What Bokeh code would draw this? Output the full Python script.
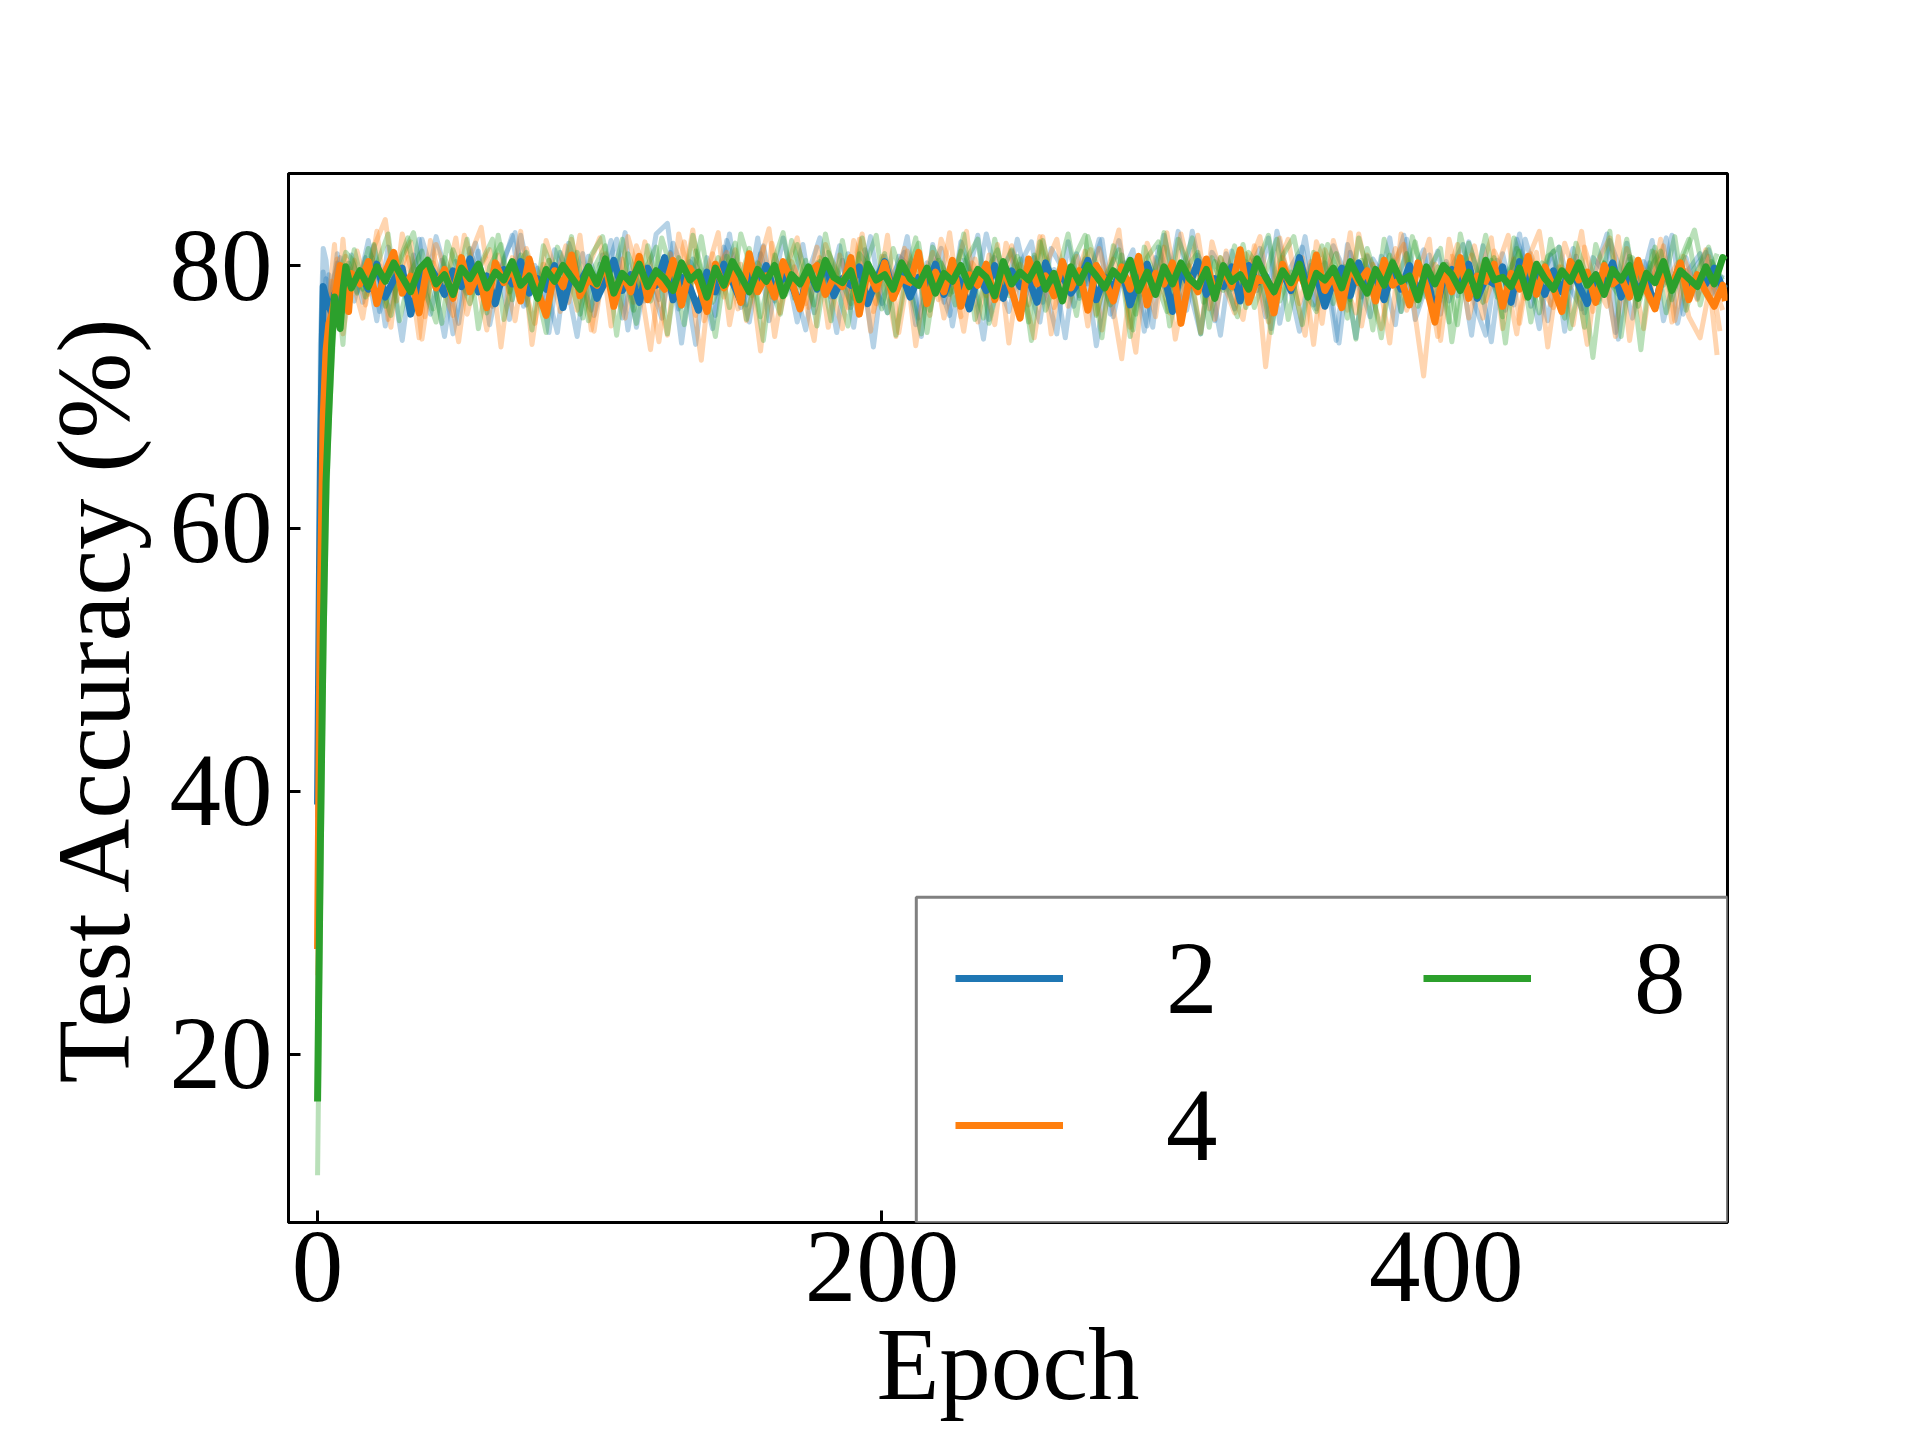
from bokeh.plotting import figure
from bokeh.models import Legend, LegendItem, BoxAnnotation, FixedTicker, Range1d
from bokeh.embed import file_html
from bokeh.resources import INLINE

# ---------------- data ----------------
SERIES_LABELS = ["2", "4", "8"]
COLORS = ["#1f77b4", "#ff7f0e", "#2ca02c"]

EPOCH_MEAN = list(range(13)) + list(range(15, 499, 3)) + [499]
EPOCH_RUN_A = [0, 1, 2, 3, 4, 5, 6, 8, 10] + list(range(12, 497, 4))
EPOCH_RUN_B = [0, 1, 2, 3, 4, 5, 7, 9, 11] + list(range(14, 499, 4))
EPOCH_RUN_C = [0, 1, 2, 3, 4, 5, 6, 7, 9] + list(range(13, 498, 4))

MEAN_2 = [39.0, 65.0, 78.4, 77.6, 76.9, 76.4, 77.8, 78.2, 77.0, 78.6, 79.3, 78.1, 79.0,
          79.4, 78.2, 80.1, 77.6, 78.9, 79.8, 76.3, 78.7, 80.2, 79.1, 77.8, 79.6, 78.4, 80.5, 78.0, 79.2, 77.1, 79.7,
          78.6, 80.3, 77.9, 79.0, 78.2, 80.0, 76.8, 79.4, 78.7, 79.9, 77.5, 78.8, 80.4, 78.1, 79.3, 77.2, 79.8, 78.5,
          80.6, 77.4, 79.1, 78.3, 76.6, 79.5, 78.0, 80.1, 78.8, 77.3, 79.6, 78.4, 80.0, 77.9, 79.2, 78.6, 76.9, 79.7,
          78.2, 80.2, 77.7, 79.0, 78.5, 79.9, 77.1, 78.9, 80.3, 78.0, 79.4, 77.6, 79.1, 78.3, 80.1, 77.8, 79.5, 78.7,
          76.7, 79.3, 78.1, 80.0, 77.5, 79.6, 78.4, 79.0, 77.2, 80.2, 78.6, 79.2, 77.9, 78.8, 80.4, 77.4, 79.1, 78.3,
          79.8, 77.0, 78.9, 80.1, 78.2, 79.4, 76.5, 79.7, 78.5, 80.3, 77.8, 79.0, 78.4, 79.9, 77.3, 80.0, 78.7, 79.2,
          77.6, 79.5, 78.1, 80.6, 78.0, 79.3, 76.9, 78.8, 79.8, 77.7, 80.2, 78.5, 79.1, 77.4, 79.6, 78.2, 80.0, 77.9,
          79.4, 76.4, 78.9, 79.7, 78.3, 80.1, 77.5, 79.0, 78.6, 79.9, 77.2, 80.3, 78.4, 79.2, 77.8, 79.6, 78.0, 80.0,
          78.5, 77.1, 79.3, 78.8, 80.2, 77.6, 79.5, 78.1, 79.0, 76.8, 79.7, 78.4, 80.1, 77.9, 79.2, 78.6, 79.8, 78.3,
          78.6]

MEAN_4 = [28.0, 55.0, 68.5, 73.5, 75.6, 76.2, 77.4, 78.8, 80.0, 77.2, 78.9, 76.5, 79.4,
          78.6, 80.3, 77.1, 79.5, 81.0, 77.9, 79.2, 76.4, 80.1, 78.3, 79.7, 77.5, 80.6, 78.0, 79.4, 76.8, 80.2, 78.7,
          79.9, 77.3, 80.5, 78.1, 76.2, 79.6, 78.4, 80.8, 77.7, 79.0, 78.5, 80.2, 76.9, 79.3, 78.0, 80.7, 77.4, 79.1,
          78.2, 80.4, 77.0, 79.8, 78.6, 76.5, 80.1, 78.3, 79.5, 77.2, 80.9, 78.0, 79.2, 77.6, 80.3, 78.8, 76.7, 79.4,
          80.0, 77.8, 79.1, 78.4, 80.6, 76.3, 79.7, 78.2, 80.2, 77.5, 79.0, 78.7, 81.0, 77.1, 79.5, 78.0, 80.4, 76.9,
          79.3, 78.5, 80.1, 77.4, 79.8, 78.1, 76.0, 80.5, 78.6, 79.2, 77.7, 80.3, 78.3, 79.6, 76.6, 80.0, 78.9, 77.3,
          79.9, 78.2, 80.7, 77.0, 79.4, 78.6, 80.2, 75.6, 79.1, 78.0, 80.5, 77.6, 79.7, 78.4, 81.2, 77.2, 79.0, 78.8,
          76.4, 80.1, 78.3, 79.5, 77.9, 80.8, 78.1, 79.3, 76.8, 80.0, 78.7, 79.6, 77.3, 80.4, 78.5, 79.0, 77.0, 80.2,
          78.4, 75.7, 79.8, 78.0, 80.6, 77.5, 79.2, 78.8, 80.1, 76.9, 79.4, 78.2, 80.7, 77.8, 79.9, 78.3, 76.5, 80.3,
          78.9, 79.5, 77.2, 80.0, 78.6, 79.1, 77.6, 80.4, 78.1, 76.7, 79.7, 78.4, 80.2, 77.4, 79.3, 78.0, 76.9, 78.5,
          77.3]

MEAN_8 = [16.4, 36.0, 52.0, 63.5, 69.0, 74.0, 77.6, 76.2, 75.2, 78.1, 79.9, 79.0, 78.3,
          79.6, 78.4, 79.9, 78.8, 80.2, 79.1, 78.0, 79.7, 80.4, 78.6, 79.3, 77.8, 79.8, 79.0, 80.1, 78.3, 79.5, 78.9,
          80.3, 78.5, 79.2, 77.5, 79.7, 78.8, 80.0, 79.1, 78.2, 79.9, 78.6, 80.5, 77.9, 79.4, 78.7, 80.1, 78.4, 79.6,
          79.0, 78.1, 80.2, 78.9, 79.5, 77.6, 79.8, 78.5, 80.3, 79.2, 78.0, 79.7, 78.8, 80.0, 77.7, 79.3, 78.6, 79.9,
          78.3, 80.4, 79.1, 78.7, 79.6, 77.4, 80.1, 78.9, 79.3, 78.2, 80.2, 79.0, 78.5, 79.8, 77.9, 79.4, 78.8, 80.0,
          78.4, 79.7, 79.1, 77.7, 80.3, 78.6, 79.5, 78.9, 80.1, 78.2, 79.4, 77.3, 79.9, 78.7, 80.0, 79.2, 78.3, 79.6,
          78.9, 80.4, 78.1, 79.5, 77.8, 79.9, 78.6, 80.2, 79.0, 78.4, 79.7, 77.5, 80.0, 78.8, 79.3, 78.2, 80.5, 79.1,
          78.0, 79.6, 78.7, 80.1, 77.6, 79.4, 78.9, 79.8, 78.3, 80.3, 79.0, 77.9, 79.7, 78.5, 80.2, 78.8, 79.2, 77.4,
          79.9, 78.6, 80.0, 79.3, 78.1, 79.5, 77.7, 80.4, 78.9, 79.1, 78.4, 79.8, 77.6, 80.1, 79.0, 78.2, 79.6, 78.8,
          80.2, 78.5, 79.3, 77.8, 79.7, 78.9, 80.0, 77.5, 79.4, 78.7, 80.3, 78.1, 79.6, 79.0, 78.4, 79.9, 78.6, 80.6,
          80.4]

RUN_2A = [32.7, 74.0, 81.3, 80.4, 78.0, 76.1, 79.2, 80.6, 77.4,
          80.8, 77.2, 81.5, 75.4, 79.9, 78.1, 82.0, 76.3, 80.4, 74.8, 79.2, 81.7, 77.5, 80.1, 75.9, 82.3, 78.6, 76.8, 81.2, 79.0,
          74.6, 80.7, 78.2, 81.9, 76.0, 79.5, 77.3, 82.4, 83.2, 76.7, 80.3, 78.8, 75.2, 81.4, 79.1, 77.0, 82.1, 75.8, 80.0, 78.4,
          81.6, 76.4, 79.7, 74.9, 80.9, 78.0, 82.2, 77.1, 79.4, 81.0, 75.5, 80.2, 78.7, 76.2, 81.8, 79.3, 74.4, 80.6, 77.8, 82.0,
          78.3, 75.7, 81.3, 79.8, 76.9, 80.5, 73.9, 79.0, 81.9, 77.6, 80.1, 75.3, 82.3, 78.5, 76.6, 80.8, 79.2, 74.7, 81.1, 77.9,
          80.4, 76.1, 82.6, 78.9, 75.0, 80.0, 77.4, 81.5, 79.6, 74.5, 80.7, 78.2, 82.1, 76.5, 79.3, 81.2, 75.6, 80.3, 77.7, 81.8,
          78.8, 74.2, 80.9, 77.0, 82.0, 79.1, 75.8, 81.4, 78.3, 76.7, 80.6, 79.5, 74.9, 81.7, 77.5, 80.2, 78.0, 82.3, 76.3, 79.8,
          81.0, 77.4]

RUN_2B = [44.0, 58.0, 76.5, 79.0, 75.2, 77.8, 80.9, 76.5, 79.8,
          78.0, 81.9, 76.5, 79.6, 74.3, 80.8, 77.7, 82.2, 79.1, 75.6, 81.3, 78.4, 76.9, 80.5, 82.5, 77.0, 79.8, 74.9, 81.0, 78.7,
          80.9, 76.2, 79.4, 82.0, 75.1, 80.3, 78.6, 76.0, 81.7, 79.2, 74.0, 80.6, 77.9, 82.4, 76.8, 79.0, 81.5, 77.3, 80.1, 75.7,
          79.5, 82.1, 77.6, 80.4, 75.3, 81.2, 78.1, 76.4, 80.7, 79.9, 74.6, 81.6, 77.2, 80.0, 78.8, 82.3, 75.9, 79.3, 81.1, 76.6,
          80.6, 78.2, 74.8, 81.8, 77.5, 79.7, 82.0, 76.1, 80.2, 78.9, 75.4, 81.4, 79.0, 77.0, 82.6, 78.5, 75.8, 80.9, 77.8, 79.6,
          81.3, 75.2, 80.1, 78.3, 82.2, 76.7, 79.4, 74.1, 81.0, 77.6, 80.5, 79.1, 75.5, 82.0, 78.0, 80.8, 76.3, 79.9, 81.6, 77.1,
          74.7, 80.4, 78.6, 82.4, 76.9, 79.2, 81.1, 75.0, 80.7, 78.1, 77.4, 81.9, 79.5, 76.0, 80.3, 78.8, 82.1, 75.6, 79.7, 80.9,
          77.8, 79.3]

RUN_2C = [38.0, 68.0, 79.5, 76.0, 79.3, 77.1, 75.9, 80.2, 78.4,
          77.3, 80.6, 75.8, 81.4, 78.9, 76.4, 82.0, 79.2, 74.6, 80.3, 77.9, 81.1, 75.5, 79.6, 82.3, 76.9, 80.0, 78.3, 74.9, 81.7,
          79.0, 76.6, 80.8, 78.1, 82.5, 75.3, 79.8, 77.4, 81.0, 74.1, 80.5, 78.7, 76.2, 81.9, 79.4, 75.7, 80.9, 77.6, 82.1, 78.5,
          75.1, 80.2, 78.0, 81.5, 76.8, 79.5, 73.8, 80.7, 78.4, 82.2, 76.0, 79.1, 81.3, 75.4, 80.4, 77.7, 82.4, 78.9, 76.5, 80.1,
          81.8, 77.2, 79.7, 74.5, 80.9, 78.6, 82.0, 76.3, 79.3, 81.2, 75.0, 80.6, 77.8, 82.6, 78.2, 74.8, 81.0, 79.6, 76.7, 80.3,
          78.1, 82.1, 75.6, 79.9, 81.4, 77.0, 80.2, 74.3, 81.6, 78.8, 76.1, 80.7, 79.2, 82.3, 75.9, 78.5, 81.1, 77.3, 80.0, 74.7,
          81.5, 78.4, 76.6, 82.0, 79.4, 75.2, 80.8, 77.9, 81.3, 76.4, 79.7, 82.4, 74.4, 80.5, 78.6, 81.9, 75.8, 79.1, 80.6, 77.5,
          81.2, 78.0]

RUN_4A = [21.3, 48.0, 62.0, 72.5, 77.0, 79.5, 81.6, 75.3, 80.7,
          79.2, 76.0, 81.4, 83.5, 77.3, 80.6, 74.5, 81.9, 78.4, 76.2, 82.3, 79.5, 75.1, 80.8, 77.9, 82.6, 74.0, 80.1, 78.7, 81.5,
          76.6, 79.9, 82.1, 75.4, 80.5, 77.2, 81.8, 78.3, 74.7, 82.4, 79.0, 72.8, 80.9, 77.6, 81.2, 75.8, 79.7, 82.8, 76.4, 80.3,
          78.1, 74.3, 81.6, 79.3, 76.8, 82.0, 75.0, 80.7, 78.5, 81.3, 73.9, 79.8, 77.4, 82.5, 76.1, 80.2, 78.9, 75.5, 81.7, 79.4,
          77.0, 82.2, 74.8, 80.4, 78.2, 81.1, 76.3, 79.6, 82.7, 75.3, 80.0, 77.8, 81.4, 74.4, 79.1, 82.3, 76.7, 80.6, 78.0, 75.9,
          81.5, 72.3, 79.7, 82.0, 77.1, 80.3, 75.6, 81.9, 78.6, 76.4, 80.8, 79.2, 74.1, 82.4, 77.7, 71.6, 80.1, 78.8, 81.6, 76.0,
          79.4, 82.1, 75.2, 80.5, 77.5, 81.0, 73.8, 79.9, 78.3, 82.6, 76.5, 80.2, 74.6, 81.3, 79.0, 77.3, 82.0, 75.7, 80.7, 78.4,
          81.2, 73.2]

RUN_4B = [34.0, 60.0, 73.0, 75.5, 73.4, 78.8, 76.2, 82.0, 77.1,
          81.1, 77.8, 80.0, 75.3, 82.4, 78.9, 76.1, 81.6, 79.3, 74.2, 80.7, 82.9, 77.0, 79.6, 75.8, 81.3, 78.2, 80.4, 76.5, 82.0,
          78.6, 75.0, 80.9, 77.4, 82.2, 79.1, 73.6, 80.3, 78.0, 81.8, 76.2, 79.5, 82.5, 75.5, 80.1, 77.7, 81.4, 74.6, 79.8, 82.1,
          76.8, 80.6, 78.4, 75.2, 81.9, 79.0, 77.1, 82.3, 74.9, 80.2, 78.7, 81.0, 76.0, 79.4, 82.6, 75.7, 80.8, 77.5, 81.5, 78.1,
          74.5, 80.0, 82.0, 76.9, 79.7, 81.2, 75.1, 80.5, 78.3, 73.4, 81.7, 79.2, 76.4, 82.4, 78.8, 80.3, 75.9, 81.1, 77.2, 79.9,
          82.2, 76.3, 80.6, 78.5, 74.7, 81.8, 79.5, 77.0, 82.5, 75.4, 80.1, 78.0, 81.3, 76.6, 79.3, 82.0, 74.3, 80.7, 78.6, 81.5,
          77.3, 79.8, 82.3, 75.6, 80.9, 78.2, 76.8, 81.7, 79.1, 74.0, 80.4, 82.1, 77.6, 79.5, 75.2, 81.0, 78.7, 80.2, 76.1, 74.5,
          79.0, 76.6]

RUN_4C = [26.0, 57.0, 70.0, 71.5, 74.0, 76.5, 78.9, 80.5, 74.8,
          80.4, 77.0, 82.6, 75.9, 79.4, 81.8, 74.4, 80.2, 78.1, 82.1, 76.3, 79.7, 81.2, 73.8, 80.6, 78.5, 75.6, 81.9, 79.0, 77.2,
          82.3, 75.1, 80.0, 78.8, 76.0, 81.5, 79.2, 74.2, 80.9, 77.6, 82.7, 75.8, 79.5, 81.0, 76.7, 80.3, 73.5, 81.7, 78.4, 79.9,
          77.1, 81.4, 75.3, 80.8, 78.2, 82.4, 76.5, 79.3, 74.6, 81.1, 78.9, 76.2, 82.0, 79.6, 75.0, 80.5, 77.7, 81.6, 74.1, 80.1,
          78.6, 82.2, 76.8, 79.1, 80.7, 75.4, 81.3, 78.0, 72.9, 80.4, 79.8, 76.1, 82.5, 77.5, 80.0, 74.9, 81.8, 78.7, 76.4, 80.9,
          79.4, 75.7, 82.1, 77.9, 80.6, 74.0, 81.2, 79.0, 76.6, 82.4, 78.3, 75.2, 80.2, 81.6, 77.3, 79.7, 74.6, 82.0, 78.1, 80.8,
          76.0, 81.1, 79.3, 74.8, 80.5, 82.6, 77.0, 79.9, 75.5, 81.4, 78.5, 76.9, 82.2, 74.3, 80.0, 78.8, 81.5, 75.8, 79.6, 77.4,
          80.7, 75.0]

RUN_8A = [10.8, 30.0, 47.0, 60.0, 67.5, 72.0, 76.0, 79.5, 81.0,
          80.5, 78.2, 81.6, 76.9, 79.8, 82.1, 77.4, 80.3, 75.6, 81.2, 78.7, 79.9, 76.4, 82.3, 78.0, 80.8, 75.1, 81.5, 79.3, 77.7,
          81.0, 75.8, 80.1, 78.5, 82.0, 76.6, 79.6, 81.4, 74.8, 80.6, 78.1, 82.2, 77.2, 79.4, 81.7, 75.9, 80.2, 78.8, 76.3, 81.9,
          79.1, 77.0, 82.4, 78.3, 75.4, 80.9, 79.7, 76.7, 81.3, 78.6, 82.1, 74.9, 80.4, 77.8, 81.1, 79.2, 76.0, 82.0, 78.4, 80.7,
          75.7, 81.8, 79.0, 77.3, 80.5, 82.3, 76.2, 79.5, 81.2, 74.6, 80.0, 78.9, 82.5, 77.5, 79.8, 81.0, 75.3, 80.6, 78.2, 81.6,
          76.8, 79.4, 82.0, 75.9, 80.3, 78.7, 81.5, 77.1, 79.9, 74.4, 81.3, 78.5, 80.8, 76.5, 82.2, 79.1, 77.6, 80.1, 75.5, 81.7,
          78.9, 80.4, 76.1, 82.1, 79.3, 77.9, 80.7, 81.4, 75.2, 79.6, 73.0, 80.2, 78.4, 82.0, 76.9, 79.7, 81.1, 77.4, 80.5, 82.7,
          78.6, 80.9]

RUN_8B = [22.0, 42.0, 57.0, 67.0, 71.5, 75.8, 78.4, 74.0, 80.2,
          77.9, 81.3, 79.0, 76.2, 80.7, 82.5, 78.1, 75.7, 81.8, 79.4, 77.1, 80.2, 82.0, 75.9, 79.6, 81.0, 77.6, 80.4, 78.3, 82.2,
          76.0, 79.8, 81.5, 74.7, 80.9, 78.6, 77.3, 82.1, 79.2, 75.5, 81.1, 78.0, 80.6, 76.8, 82.4, 79.5, 74.3, 80.8, 77.8, 81.6,
          78.8, 80.3, 75.8, 81.9, 77.5, 79.9, 82.3, 76.4, 80.0, 78.2, 74.8, 81.4, 79.7, 77.0, 80.5, 82.0, 75.6, 79.3, 81.2, 78.5,
          80.8, 76.6, 79.1, 82.4, 77.7, 80.1, 74.5, 81.5, 78.9, 76.3, 80.6, 81.8, 75.4, 79.4, 82.1, 77.2, 80.3, 78.6, 76.1, 81.0,
          79.6, 74.9, 80.7, 82.2, 78.0, 76.5, 81.6, 79.2, 77.4, 80.4, 75.1, 82.0, 78.7, 80.9, 76.9, 79.8, 81.3, 74.2, 80.0, 78.4,
          82.3, 77.6, 79.5, 81.1, 75.7, 80.2, 78.8, 76.0, 81.7, 79.0, 77.2, 82.6, 74.6, 80.6, 78.3, 81.4, 76.4, 79.9, 82.0, 77.0,
          80.3, 78.9]

RUN_8C = [18.0, 38.0, 55.0, 64.0, 70.5, 73.0, 77.2, 78.8, 76.5,
          81.2, 77.6, 80.0, 82.4, 75.8, 79.5, 81.1, 76.7, 80.6, 78.3, 82.0, 75.2, 79.9, 81.6, 77.4, 80.3, 78.8, 74.9, 81.4, 79.1,
          76.3, 80.8, 82.2, 77.9, 79.3, 75.6, 81.5, 78.6, 80.1, 76.9, 82.3, 79.0, 74.6, 80.7, 78.2, 81.3, 76.1, 79.8, 82.5, 77.5,
          80.4, 75.4, 81.0, 79.2, 77.1, 82.1, 78.5, 80.9, 74.7, 79.6, 81.7, 76.6, 80.2, 78.0, 82.4, 75.9, 79.4, 81.2, 77.7, 80.5,
          74.3, 81.9, 78.4, 80.0, 76.2, 82.2, 79.3, 77.0, 80.8, 75.1, 81.4, 78.9, 76.5, 82.0, 79.7, 74.8, 80.6, 78.1, 81.5, 76.8,
          80.1, 82.3, 77.3, 79.5, 75.5, 81.0, 78.6, 80.9, 76.0, 82.1, 79.0, 74.5, 80.4, 78.2, 81.8, 77.6, 79.9, 75.7, 82.4, 78.8,
          77.2, 80.6, 74.1, 81.3, 79.4, 76.4, 82.0, 78.0, 80.2, 75.3, 81.6, 79.1, 77.8, 80.7, 73.6, 81.1, 78.5, 82.2, 76.6, 79.6,
          81.4, 78.3]

X_TICKS = [0, 200, 400]
Y_TICKS = [20, 40, 60, 80]
X_LABEL = "Epoch"
Y_LABEL = "Test Accuracy (%)"

MEANS = [MEAN_2, MEAN_4, MEAN_8]
RUNS = [[RUN_2A, RUN_2B, RUN_2C], [RUN_4A, RUN_4B, RUN_4C], [RUN_8A, RUN_8B, RUN_8C]]
RUN_EPOCHS = [EPOCH_RUN_A, EPOCH_RUN_B, EPOCH_RUN_C]

FONT = "Liberation Serif"
FS = "103px"


def pair(xs, ys):
    n = min(len(xs), len(ys))
    return xs[:n], ys[:n]


p = figure(width=1904, height=1424, output_backend="svg", toolbar_location=None,
           x_range=Range1d(-10.3, 499.7), y_range=Range1d(7.2, 87.0),
           min_border_left=288, min_border_right=177, min_border_top=173,
           min_border_bottom=202, background_fill_color="white",
           border_fill_color="white")

p.grid.visible = False
p.outline_line_color = "black"
p.outline_line_width = 3
p.outline_line_alpha = 1.0

# faded individual runs
for color, runs in zip(COLORS, RUNS):
    for ep, run in zip(RUN_EPOCHS, runs):
        xs, ys = pair(ep, run)
        p.line(xs, ys, line_color=color, line_width=5, line_alpha=0.33,
               line_join="round")

# bold mean lines
mean_renderers = []
for color, mean in zip(COLORS, MEANS):
    xs, ys = pair(EPOCH_MEAN, mean)
    r = p.line(xs, ys, line_color=color, line_width=7, line_join="round")
    mean_renderers.append(r)

# axes
for ax in (p.xaxis[0], p.yaxis[0]):
    ax.major_tick_in = 12
    ax.major_tick_out = 0
    ax.minor_tick_in = 0
    ax.minor_tick_out = 0
    ax.major_tick_line_width = 3
    ax.axis_line_width = 3
    ax.major_label_text_font = FONT
    ax.major_label_text_font_size = FS
    ax.major_label_text_color = "black"
    ax.axis_label_text_font = FONT
    ax.axis_label_text_font_size = FS
    ax.axis_label_text_font_style = "normal"
    ax.axis_label_text_color = "black"

p.xaxis.ticker = FixedTicker(ticks=X_TICKS)
p.yaxis.ticker = FixedTicker(ticks=Y_TICKS)
p.xaxis.axis_label = X_LABEL
p.yaxis.axis_label = Y_LABEL
p.yaxis.major_label_standoff = 16
p.yaxis.axis_label_standoff = 16
p.xaxis.major_label_standoff = 10
p.xaxis.axis_label_standoff = 3

# legend frame (matplotlib style box, bottom-right corner)
box = BoxAnnotation(left=212.2, right=499.7, bottom=7.2, top=31.95,
                    fill_color="white", fill_alpha=1.0,
                    line_color="#808080", line_width=3, line_alpha=1.0)
p.add_layout(box)

legend = Legend(
    items=[LegendItem(label=lab, renderers=[r]) for lab, r in zip(SERIES_LABELS, mean_renderers)],
    location=(667, 38), orientation="vertical", nrows=2,
    glyph_width=108, glyph_height=102, label_height=102, label_width=228,
    label_standoff=103, spacing=29, padding=0, margin=0,
    border_line_alpha=0, background_fill_alpha=0,
    label_text_font=FONT, label_text_font_size=FS, label_text_color="black",
)
p.add_layout(legend)

open("out.html", "w").write(file_html(p, INLINE))
